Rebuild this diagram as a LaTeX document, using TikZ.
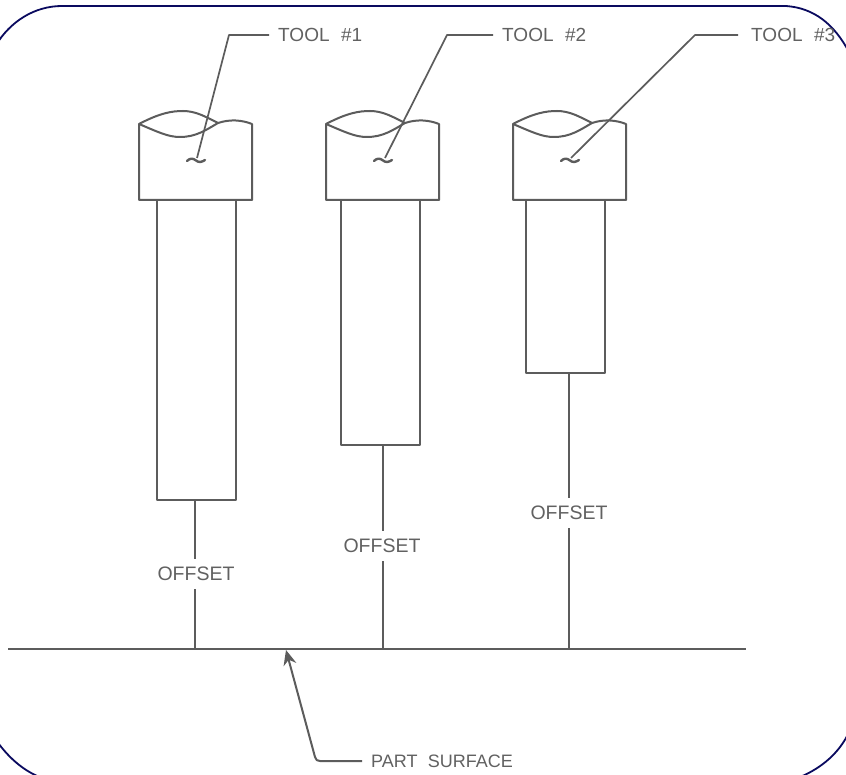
\documentclass[tikz,border=0pt]{standalone}
\usepackage{fontspec}
\setmainfont{Liberation Sans}
\usetikzlibrary{arrows.meta}
\definecolor{framecol}{RGB}{10,10,95}
\definecolor{inkcol}{gray}{0.36}
\definecolor{textcol}{gray}{0.38}
\tikzset{
  ink/.style={draw=inkcol,line width=2pt,line join=round},
  thin ink/.style={draw=inkcol,line width=1.7pt,line join=round},
  label text/.style={text=textcol,font=\fontsize{19}{21}\selectfont,inner sep=0pt,anchor=west},
  part text/.style={text=textcol,font=\fontsize{18}{21}\selectfont,inner sep=0pt,anchor=west},
  off text/.style={text=textcol,font=\fontsize{19.5}{21}\selectfont,inner xsep=0pt,inner ysep=8pt,fill=white},
  frame/.style={draw=framecol,line width=1.8pt},
  pics/toolhead/.style={code={
    \draw[ink] (-57,-36) .. controls (-36,-47) and (-24,-49) .. (-13,-49)
       .. controls (0,-49) and (10,-43) .. (22,-37)
       .. controls (34,-41) and (46,-40) .. (56,-36) -- (56,40) -- (-57,40) -- cycle;
    \draw[ink] (-57,-36) .. controls (-38,-28) and (-28,-23) .. (-16,-23)
       .. controls (0,-23) and (10,-30) .. (22,-37);
    \draw[ink,line width=2.6pt] (-57,40) -- (56,40);
    \draw[ink,line width=2.4pt,line cap=round] (-9,1) .. controls (-6,-2) and (-3,-2) .. (0,0.5)
       .. controls (3,3) and (6,2) .. (9,0);
  }}
}
\begin{document}
\begin{tikzpicture}[x=1pt,y=-1pt]
\useasboundingbox (0,0) rectangle (846,775);
\fill[white] (0,0) rectangle (846,775);
\begin{scope}
\clip (0,0) rectangle (846,775);
\draw[frame]
  (-4,45) .. controls (10,22) and (34,6) .. (62,6) -- (786,6)
  .. controls (814,8) and (834,24) .. (849,52)
  (849,732) .. controls (840,752) and (822,768) .. (800,777)
  (42,778) .. controls (26,772) and (10,760) .. (-4,740);
\end{scope}
% tool heads
\pic at (196,160) {toolhead};
\pic at (383,160) {toolhead};
\pic at (570,160) {toolhead};
% shanks
\node[ink,minimum width=79pt,minimum height=300pt,inner sep=0pt] (s1) at (196.5,350) {};
\node[ink,minimum width=79pt,minimum height=245pt,inner sep=0pt] (s2) at (380.5,322.5) {};
\node[ink,minimum width=79pt,minimum height=173pt,inner sep=0pt] (s3) at (565.5,286.5) {};
% part surface
\coordinate (sl) at (8,649);
\coordinate (sr) at (746,649);
\draw[ink] (sl) -- (sr);
\coordinate (b1) at (195,649);
\coordinate (b2) at (383,649);
\coordinate (b3) at (569,649);
\coordinate (t1) at (195,500);
\coordinate (t2) at (383,445);
\coordinate (t3) at (569,373);
% offset lines and labels
\draw[ink] (t1) -- (b1);
\draw[ink] (t2) -- (b2);
\draw[ink] (t3) -- (b3);
\node[off text] (o1) at (196,574) {OFFSET};
\node[off text] (o2) at (382,546) {OFFSET};
\node[off text] (o3) at (569,513) {OFFSET};
% tool labels and leaders
\node[label text] (l1) at (278,35) {TOOL\hspace{0.33em} \#1};
\node[label text] (l2) at (502,35) {TOOL\hspace{0.33em} \#2};
\node[label text] (l3) at (751,35) {TOOL\hspace{0.33em} \#3};
\coordinate (h1) at (197,158);
\coordinate (h2) at (385,158);
\coordinate (h3) at (571,158);
\draw[thin ink] (l1.west) ++(-9,0) -- (229,35) -- (h1);
\draw[thin ink] (l2.west) ++(-9,0) -- (447,35) -- (h2);
\draw[thin ink] (l3.west) ++(-13,0) -- (695,35) -- (h3);
% part surface label
\node[part text] (ps) at (371,761) {PART\hspace{0.3em} SURFACE};
\coordinate (tip) at (286,650);
\draw[ink,-{Stealth[length=15pt,width=13pt]}] (ps.west) ++(-9,0) -- (320,761) .. controls (317,761) and (316,760) .. (315,757) -- (tip);
\end{tikzpicture}
\end{document}
